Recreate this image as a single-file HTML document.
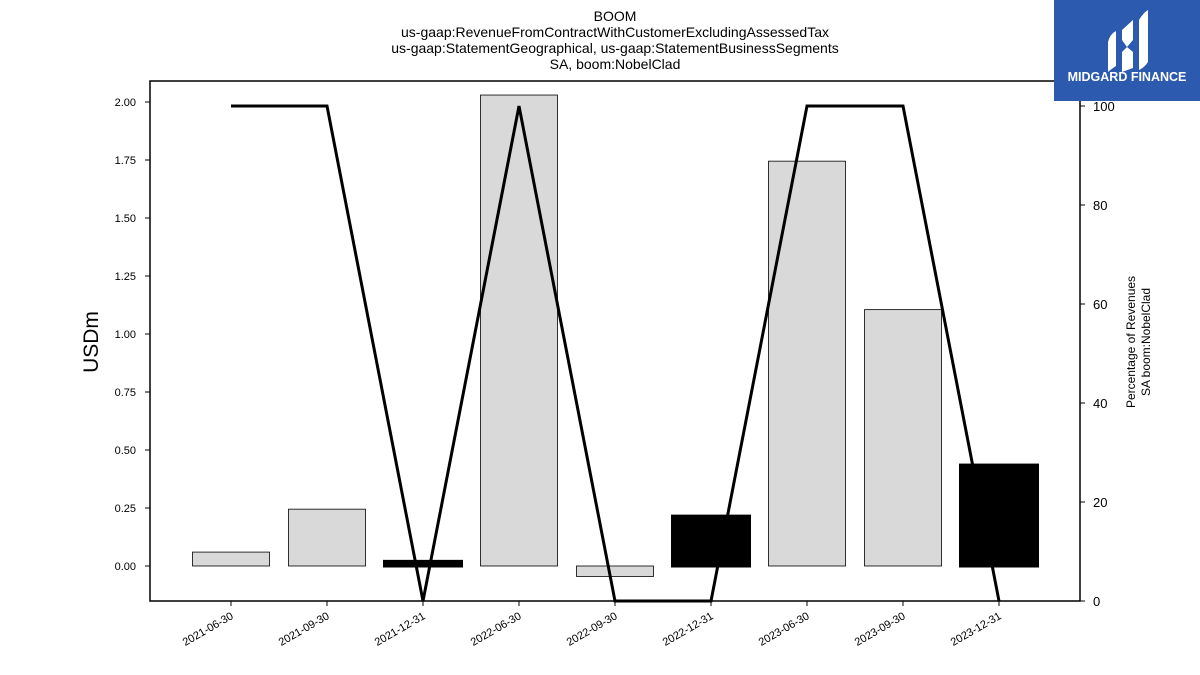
<!DOCTYPE html>
<html><head><meta charset="utf-8"><style>
body{margin:0;background:#fff;}
svg{display:block;font-family:"Liberation Sans",sans-serif;}
</style></head><body>
<svg id="c" width="1200" height="675" xmlns="http://www.w3.org/2000/svg">
<g font-size="14" text-anchor="middle">
<text x="615" y="21">BOOM</text>
<text x="615" y="37">us-gaap:RevenueFromContractWithCustomerExcludingAssessedTax</text>
<text x="615" y="53">us-gaap:StatementGeographical, us-gaap:StatementBusinessSegments</text>
<text x="615" y="69">SA, boom:NobelClad</text>
</g>
<g id="bars"></g>
<g id="axes"></g>
<polyline id="line" fill="none" stroke="#000" stroke-width="3"/>
<rect x="150" y="81" width="930" height="520" fill="none" stroke="#000" stroke-width="1.5"/>
<text transform="translate(98,342) rotate(-90)" font-size="21" text-anchor="middle">USDm</text>
<text transform="translate(1141,342) rotate(-90)" font-size="12" text-anchor="middle"><tspan x="0" dy="-6">Percentage of Revenues</tspan><tspan x="0" dy="15">SA boom:NobelClad</tspan></text>
<g>
<rect x="1054" y="0" width="146" height="101" fill="#2b5aae"/>
<path d="M1108 42 Q1110 34 1116 31 L1116 66 Q1110 70 1108 72 Z" fill="#fff"/>
<path d="M1122 30 L1133 20 L1133 40 L1127 47 L1133 52 L1133 68 L1122 72 L1122 52 L1127 47 L1122 40 Z" fill="#fff"/>
<path d="M1139 20 Q1143 13 1148 10 L1148 62 Q1144 68 1139 70 Z" fill="#fff"/>
<text x="1127" y="81" font-size="12.5" font-weight="bold" fill="#fff" text-anchor="middle">MIDGARD FINANCE</text>
</g>
</svg>
<script>
const categories=["2021-06-30","2021-09-30","2021-12-31","2022-06-30","2022-09-30","2022-12-31","2023-06-30","2023-09-30","2023-12-31"];
const revenues=[0.06,0.245,0.02,2.03,-0.045,0.215,1.745,1.105,0.435];
const highlighted=[false,false,true,false,false,true,false,false,true];
const percentages=[100,100,0,100,0,0,100,100,0];
const leftTicks=[0,0.25,0.5,0.75,1.0,1.25,1.5,1.75,2.0];
const rightTicks=[0,20,40,60,80,100];
const NS="http://www.w3.org/2000/svg";
const xS=i=>231+i*96;
const yL=v=>566-v*232;
const yR=v=>601-v*4.95;
function mk(t,a,p){const e=document.createElementNS(NS,t);for(const k in a)e.setAttribute(k,a[k]);p.appendChild(e);return e;}
const bars=document.getElementById('bars'),axes=document.getElementById('axes');
revenues.forEach((v,i)=>{
 const y0=yL(0),y1=yL(v);
 const r=mk('rect',{x:xS(i)-38.5,y:Math.min(y0,y1),width:77,height:Math.max(Math.abs(y1-y0),1),fill:highlighted[i]?'#000':'#d9d9d9',stroke:'#000','stroke-width':highlighted[i]?3:0.8},bars);
 
 
});
document.getElementById('line').setAttribute('points',percentages.map((p,i)=>xS(i)+','+yR(p)).join(' '));
leftTicks.forEach(t=>{
 mk('line',{x1:145,x2:150,y1:yL(t),y2:yL(t),stroke:'#000'},axes);
 const tx=mk('text',{x:136,y:yL(t)+4,'font-size':11,'text-anchor':'end'},axes);tx.textContent=t.toFixed(2);
 
 
});
rightTicks.forEach(t=>{
 mk('line',{x1:1080,x2:1085,y1:yR(t),y2:yR(t),stroke:'#000'},axes);
 const tx=mk('text',{x:1093,y:yR(t)+5,'font-size':13},axes);tx.textContent=t;
 
 
});
categories.forEach((c,i)=>{
 mk('line',{x1:xS(i),x2:xS(i),y1:601,y2:606,stroke:'#000'},axes);
 const tx=mk('text',{x:xS(i)+3,y:618,'font-size':11,'text-anchor':'end',transform:'rotate(-30 '+(xS(i)+3)+' 618)'},axes);tx.textContent=c;
 
 
});
</script>
</body></html>
